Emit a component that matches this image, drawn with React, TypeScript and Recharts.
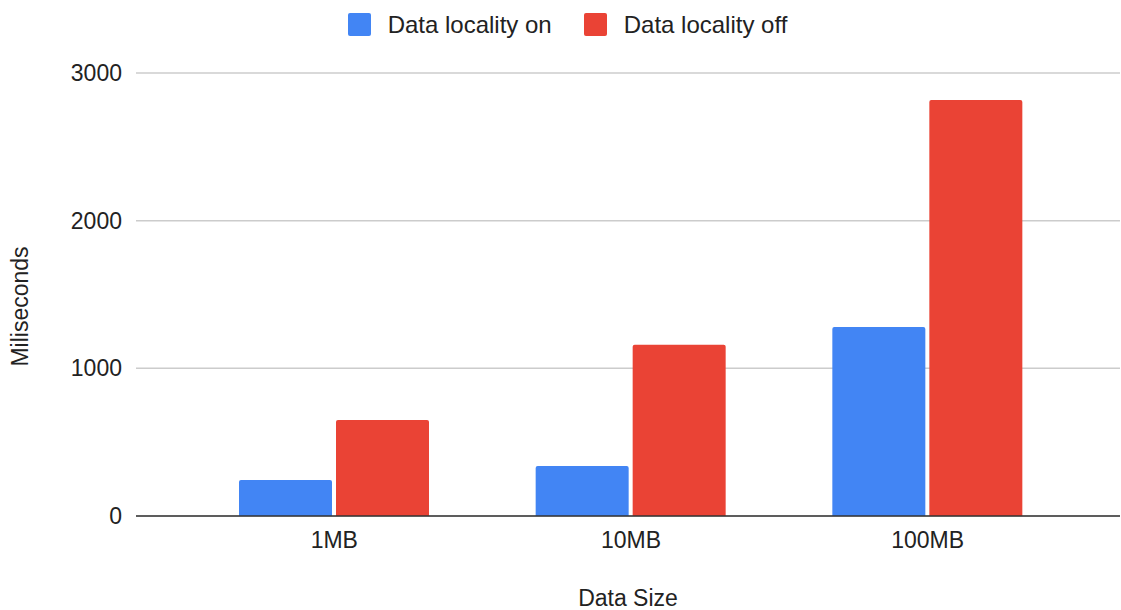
import { BarChart, Bar, XAxis, YAxis, CartesianGrid, Legend, Label } from "recharts";

const sizes = ["1MB", "10MB", "100MB"];
const localityOn = [244, 339, 1280];
const localityOff = [650, 1159, 2818];
const yTicks = [0, 1000, 2000, 3000];
const seriesNames = ["Data locality on", "Data locality off"];

const data = sizes.map((size, i) => ({
  size,
  on: localityOn[i],
  off: localityOff[i],
}));

const FONT = "'Liberation Sans', Arial, sans-serif";
const TEXT = "#222222";

// keep the legend in series order instead of the default alphabetical sort
function LegendRow({ payload }: any) {
  const items = [...(payload || [])].sort(
    (a: any, b: any) => seriesNames.indexOf(a.value) - seriesNames.indexOf(b.value)
  );
  return (
    <div
      style={{
        display: "flex",
        justifyContent: "center",
        alignItems: "center",
        fontFamily: FONT,
        fontSize: 24,
        color: TEXT,
        height: 27,
        paddingLeft: 14,
      }}
    >
      {items.map((item: any, i: number) => (
        <div
          key={item.value}
          style={{ display: "flex", alignItems: "center", marginLeft: i ? 32 : 0 }}
        >
          <span
            style={{
              width: 23,
              height: 23,
              borderRadius: 2,
              background: item.color,
              marginRight: 17,
              display: "inline-block",
            }}
          />
          <span>{item.value}</span>
        </div>
      ))}
    </div>
  );
}

export default function App() {
  return (
    <div style={{ position: "absolute", left: 0, top: 0, background: "#fff" }}>
      <BarChart
        width={1121}
        height={610}
        data={data}
        margin={{ top: 46, right: 1, bottom: 0, left: 0 }}
        barCategoryGap={53}
        barGap={4}
      >
        <CartesianGrid vertical={false} stroke="#cccccc" strokeWidth={1.5} />
        <XAxis
          dataKey="size"
          height={94}
          padding={{ left: 50, right: 44 }}
          tickLine={false}
          tickSize={0}
          tickMargin={16}
          axisLine={{ stroke: "#333333", strokeWidth: 1.5 }}
          tick={{ fill: TEXT, fontSize: 23, fontFamily: FONT }}
        >
          <Label
            content={({ viewBox }: any) => (
              <text
                x={viewBox.x + viewBox.width / 2}
                y={606}
                textAnchor="middle"
                fill={TEXT}
                fontSize={23}
                fontFamily={FONT}
              >
                Data Size
              </text>
            )}
          />
        </XAxis>
        <YAxis
          width={136}
          domain={[0, 3000]}
          ticks={yTicks}
          axisLine={false}
          tickLine={false}
          tickSize={0}
          tickMargin={14}
          tick={{ fill: TEXT, fontSize: 23, fontFamily: FONT }}
        >
          <Label
            content={({ viewBox }: any) => {
              const cx = 20;
              const cy = viewBox.y + viewBox.height / 2 + 12;
              return (
                <text
                  x={cx}
                  y={cy}
                  transform={`rotate(-90, ${cx}, ${cy})`}
                  textAnchor="middle"
                  dominantBaseline="central"
                  fill={TEXT}
                  fontSize={23}
                  fontFamily={FONT}
                >
                  Miliseconds
                </text>
              );
            }}
          />
        </YAxis>
        <Legend
          verticalAlign="top"
          align="center"
          content={<LegendRow />}
          wrapperStyle={{ top: 11, left: 0, width: 1121 }}
        />
        <Bar
          dataKey="on"
          name={seriesNames[0]}
          fill="#4285F4"
          radius={[2, 2, 0, 0]}
          isAnimationActive={false}
        />
        <Bar
          dataKey="off"
          name={seriesNames[1]}
          fill="#EA4335"
          radius={[2, 2, 0, 0]}
          isAnimationActive={false}
        />
      </BarChart>
    </div>
  );
}
